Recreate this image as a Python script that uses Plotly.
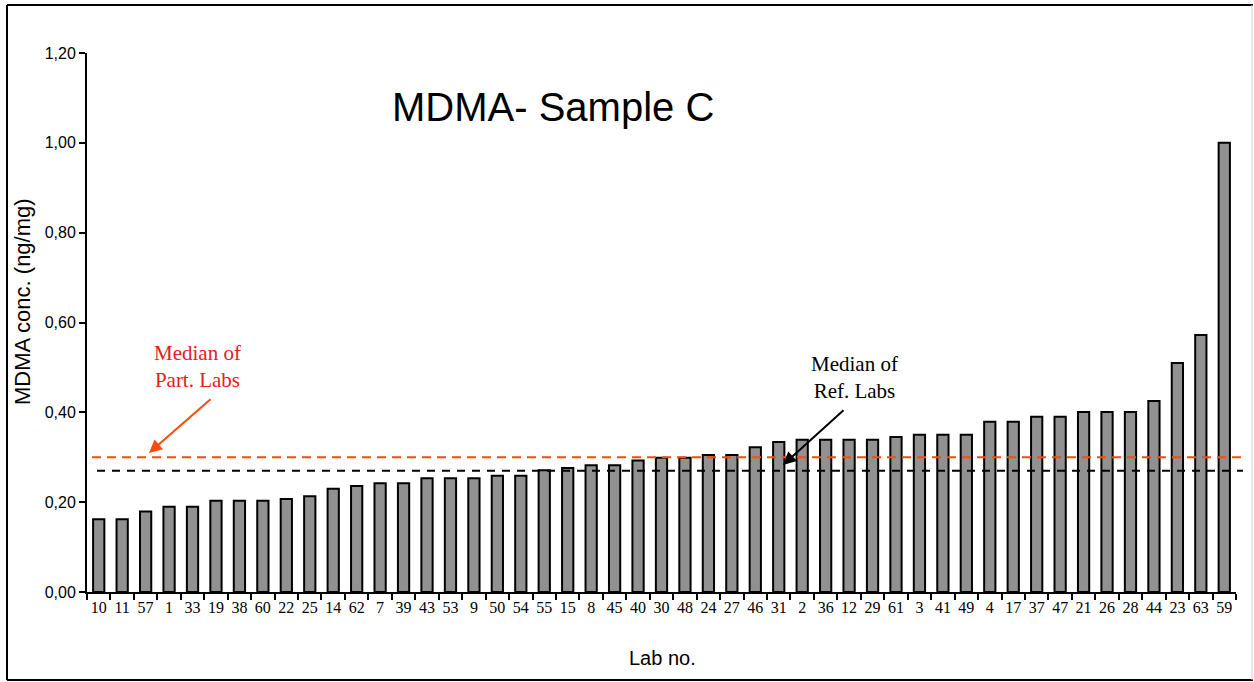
import plotly.graph_objects as go

labs = ["10", "11", "57", "1", "33", "19", "38", "60", "22", "25", "14", "62", "7", "39",
        "43", "53", "9", "50", "54", "55", "15", "8", "45", "40", "30", "48", "24", "27",
        "46", "31", "2", "36", "12", "29", "61", "3", "41", "49", "4", "17", "37", "47",
        "21", "26", "28", "44", "23", "63", "59"]
conc = [0.162, 0.162, 0.179, 0.190, 0.190, 0.203, 0.203, 0.203, 0.207, 0.213, 0.230, 0.236,
        0.242, 0.242, 0.253, 0.253, 0.253, 0.259, 0.259, 0.271, 0.276, 0.282, 0.282, 0.293,
        0.299, 0.299, 0.305, 0.305, 0.322, 0.334, 0.339, 0.339, 0.339, 0.339, 0.345, 0.350,
        0.350, 0.350, 0.379, 0.379, 0.390, 0.390, 0.401, 0.401, 0.401, 0.425, 0.510, 0.572,
        1.000]
median_part = 0.30
median_ref = 0.27
y_ticks = [0.0, 0.2, 0.4, 0.6, 0.8, 1.0, 1.2]
y_ticktext = ["0,00", "0,20", "0,40", "0,60", "0,80", "1,00", "1,20"]

# layout geometry (pixels)
W, H = 1254, 682
L, R, T, B = 87, 18, 53, 90
pw = W - L - R
ph = H - T - B


def px(x):
    return (x - L) / pw


def py(y):
    return (H - B - y) / ph


fig = go.Figure()
fig.add_trace(go.Bar(
    x=labs, y=conc,
    marker=dict(color="#919191", line=dict(color="black", width=2)),
    showlegend=False,
))

# median lines
fig.add_shape(type="line", xref="paper", yref="y", x0=px(92), x1=px(1241),
              y0=median_part, y1=median_part,
              line=dict(color="#ff4a0a", width=2.2, dash="9px,6px"))
fig.add_shape(type="line", xref="paper", yref="y", x0=px(97), x1=px(1243),
              y0=median_ref, y1=median_ref,
              line=dict(color="black", width=2.2, dash="8px,7px"))

# frame
fig.add_shape(type="line", xref="paper", yref="paper", x0=px(7), x1=px(7), y0=py(5), y1=py(680),
              line=dict(color="black", width=2))
fig.add_shape(type="line", xref="paper", yref="paper", x0=px(7), x1=px(1253), y0=py(5), y1=py(5),
              line=dict(color="black", width=2))
fig.add_shape(type="line", xref="paper", yref="paper", x0=px(7), x1=px(1253), y0=py(680), y1=py(680),
              line=dict(color="black", width=2))
fig.add_shape(type="line", xref="paper", yref="paper", x0=px(1252), x1=px(1252), y0=py(5), y1=py(680),
              line=dict(color="#d0d0d0", width=1))

serif = "Liberation Serif, Times New Roman, serif"
sans = "Liberation Sans, Arial, sans-serif"

ann = [
    dict(text="MDMA- Sample C", x=px(553), y=py(107), font=dict(family=sans, size=40, color="black")),
    dict(text="Lab no.", x=px(662), y=py(658), font=dict(family=sans, size=20, color="black")),
    dict(text="MDMA conc. (ng/mg)", x=px(22), y=py(302), textangle=-90,
         font=dict(family=sans, size=22, color="black")),
    dict(text="Median of<br>Part. Labs", x=px(197), y=py(367),
         font=dict(family=serif, size=21, color="#e3201b")),
    dict(text="Median of<br>Ref. Labs", x=px(854), y=py(377),
         font=dict(family=serif, size=21, color="black")),
]
annotations = []
for a in ann:
    d = dict(xref="paper", yref="paper", showarrow=False, xanchor="center", yanchor="middle")
    d.update(a)
    annotations.append(d)

# arrows
annotations.append(dict(xref="paper", yref="paper", x=px(149), y=py(453), text="",
                        showarrow=True, ax=63, ay=-55, arrowhead=2, arrowsize=1.3,
                        arrowwidth=2, arrowcolor="#ff4a0a"))
annotations.append(dict(xref="paper", yref="paper", x=px(783), y=py(465), text="",
                        showarrow=True, ax=62, ay=-56, arrowhead=2, arrowsize=1.3,
                        arrowwidth=2, arrowcolor="black"))

fig.update_layout(
    width=W, height=H,
    margin=dict(l=L, r=R, t=T, b=B, pad=0),
    paper_bgcolor="white", plot_bgcolor="white",
    bargap=0.52,
    annotations=annotations,
    xaxis=dict(
        type="category", showline=True, linecolor="black", linewidth=2,
        ticks="outside", tickson="boundaries", ticklen=6, tickwidth=2, tickcolor="black",
        tickangle=0,
        tickfont=dict(family=serif, size=16, color="black"),
        showgrid=False, zeroline=False,
    ),
    yaxis=dict(
        range=[0, 1.2], showline=True, linecolor="black", linewidth=2,
        ticks="outside", ticklen=6, tickwidth=2, tickcolor="black",
        tickvals=y_ticks, ticktext=y_ticktext,
        tickfont=dict(family=sans, size=16, color="black"),
        showgrid=False, zeroline=False,
    ),
)

fig.write_html("out.html", config={"displayModeBar": False},
               post_script="document.body.style.margin='0';document.body.style.overflow='hidden';")
